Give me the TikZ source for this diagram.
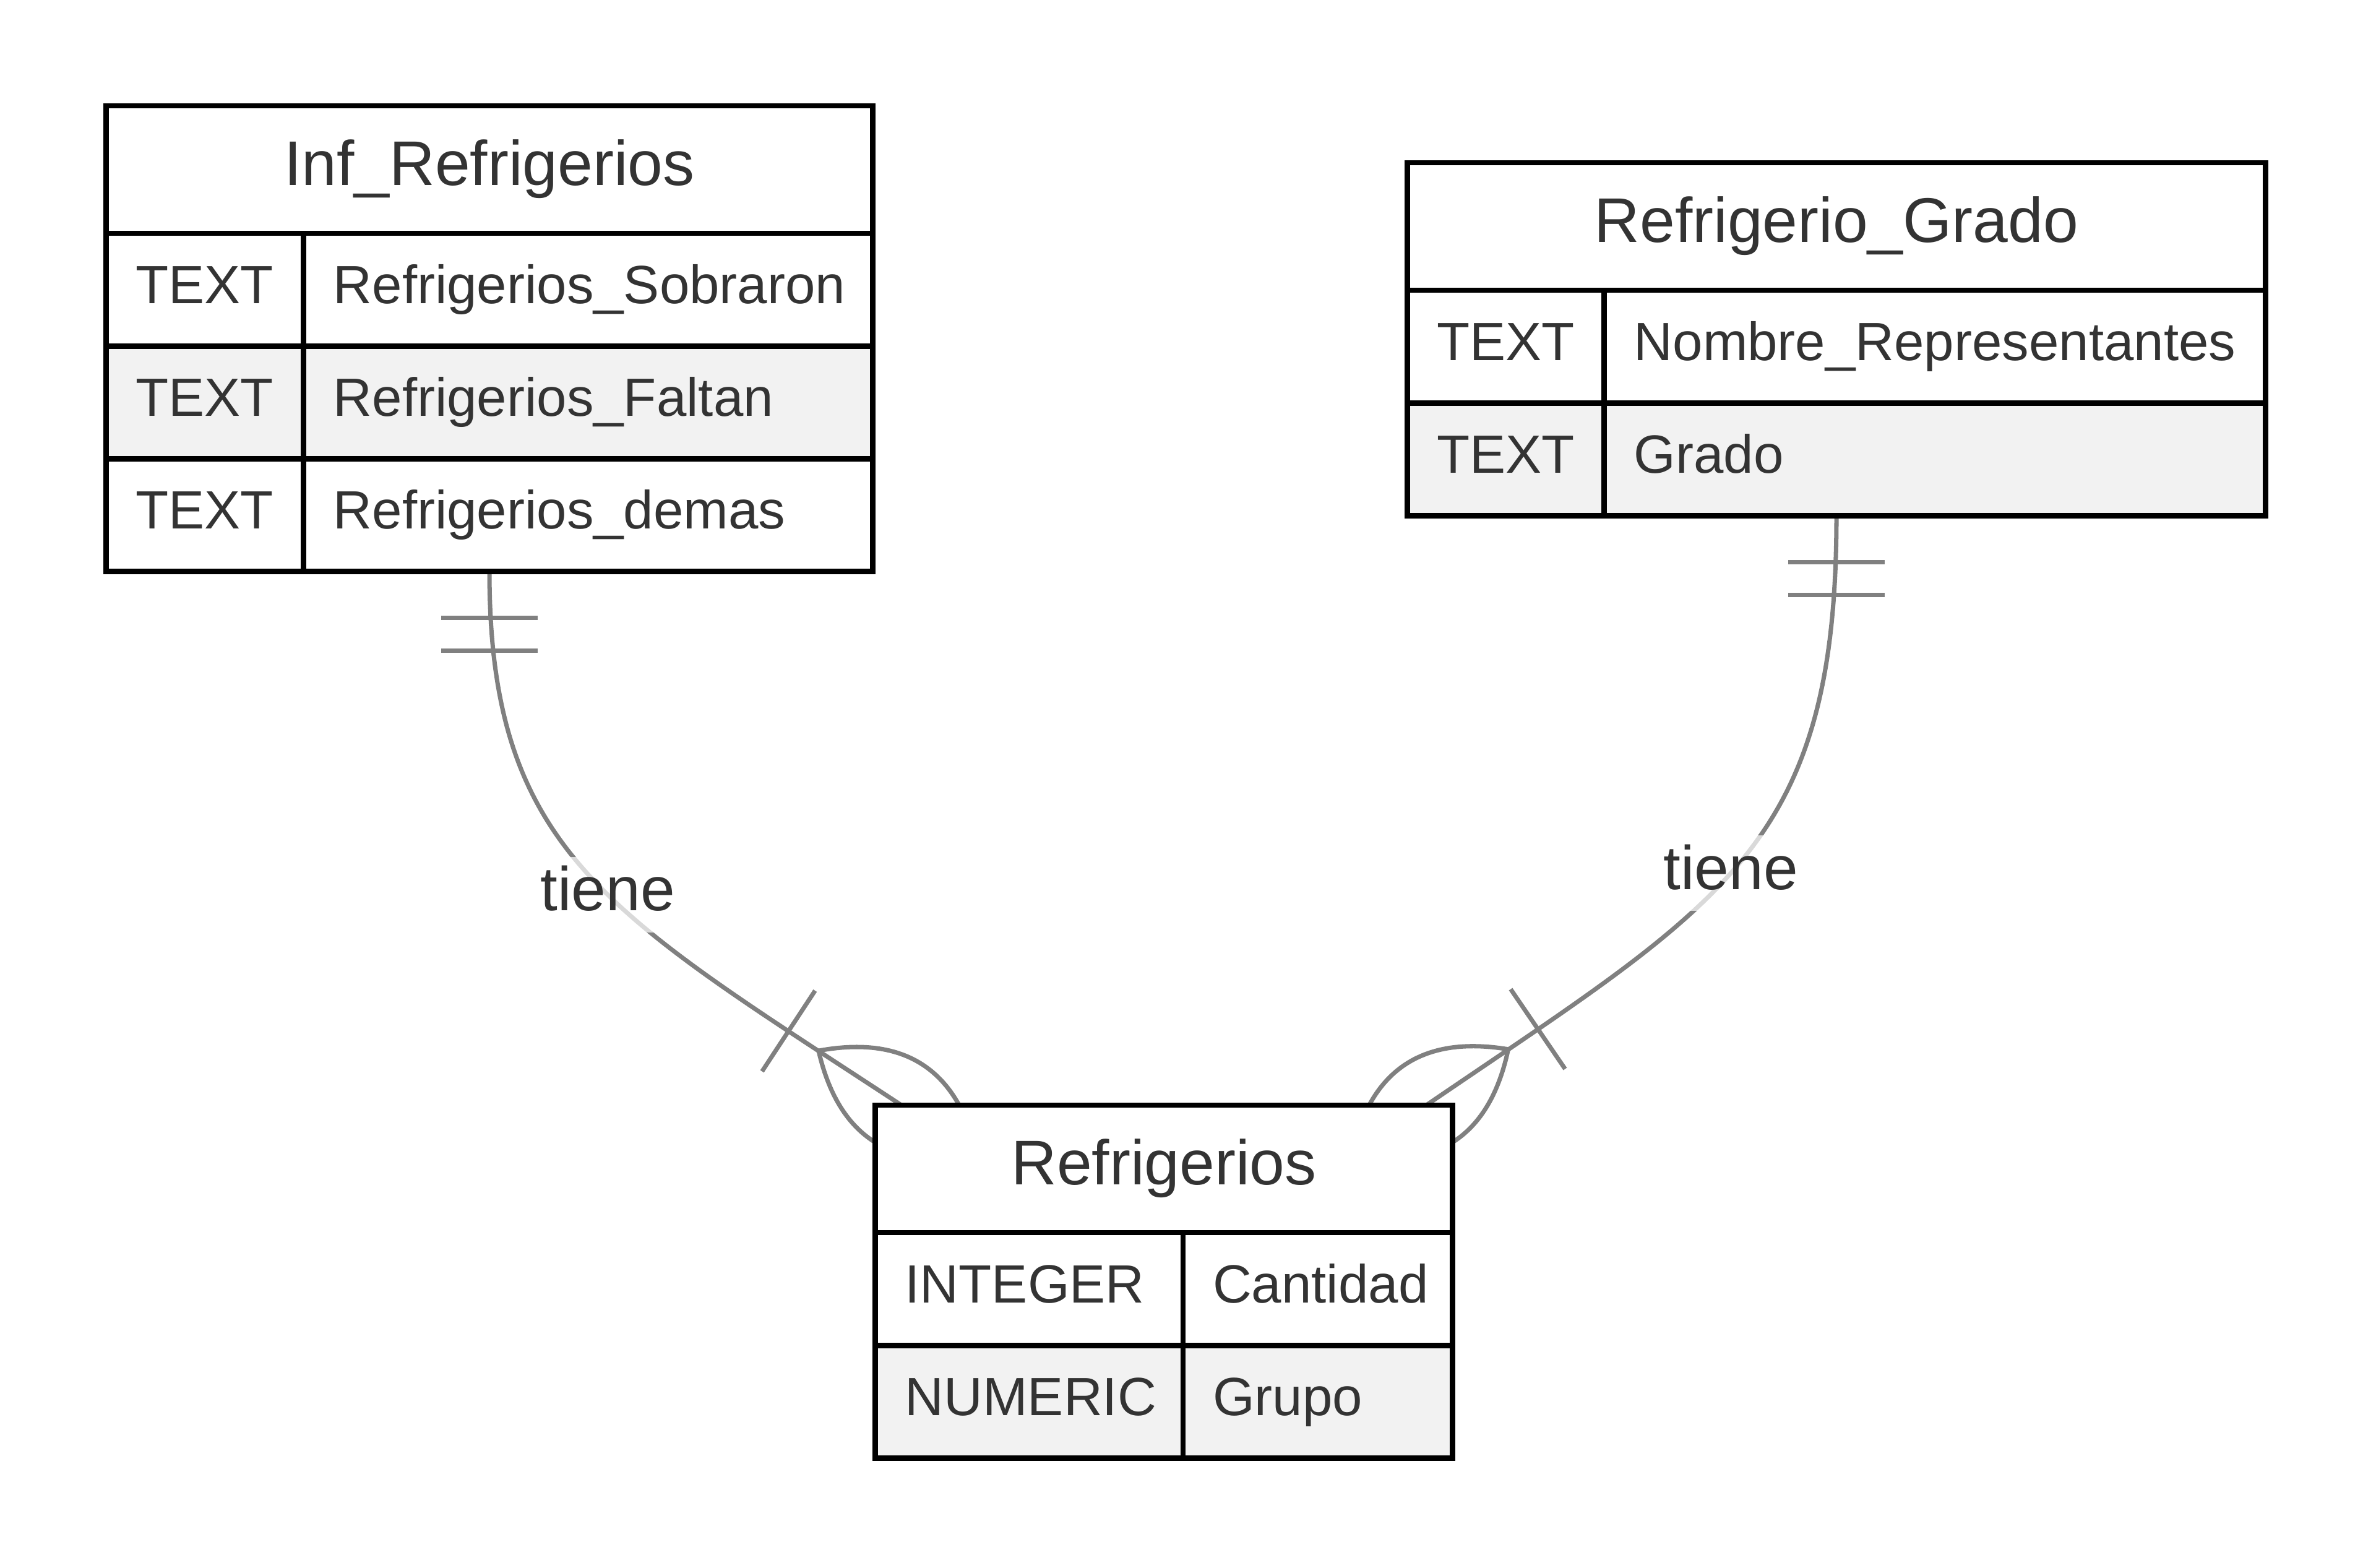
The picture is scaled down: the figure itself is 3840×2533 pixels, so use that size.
\documentclass[tikz,border=0pt]{standalone}
\usepackage{fontspec}
\setmainfont{Liberation Sans}
\usetikzlibrary{positioning}
\usetikzlibrary{fit}
\usetikzlibrary{calc}
\pgfdeclarelayer{background}
\pgfsetlayers{background,main}
\definecolor{txtgray}{HTML}{333333}
\definecolor{rowgray}{HTML}{F2F2F2}
\definecolor{linkgray}{HTML}{808080}

\begin{document}
\begin{tikzpicture}[
    x=0.01cm, y=-0.01cm,
    headnode/.style={draw=black, line width=2.5pt, fill=white, minimum height=2.06cm, inner sep=0pt, outer sep=0pt, text=txtgray, text height=0.73cm, text depth=0.23cm, font=\fontsize{29pt}{35pt}\selectfont},
    cellnode/.style={draw=black, line width=2.5pt, fill=white, minimum height=1.82cm, inner xsep=0.48cm, inner ysep=0pt, outer sep=0pt, align=left, text=txtgray, text height=0.64cm, text depth=0.19cm, font=\fontsize{24.75pt}{30pt}\selectfont},
    grayrow/.style={cellnode, fill=rowgray},
    link/.style={draw=linkgray, line width=2pt},
    tiene/.style={fill=white, fill opacity=0.7, text opacity=1, text=txtgray, inner sep=0pt, minimum height=1.22cm, text height=0.74cm, text depth=0.22cm, font=\fontsize{28.45pt}{34pt}\selectfont}
    ]
    \begin{pgfonlayer}{background}
    \path[use as bounding box, fill=white] (0,0) rectangle (3840,2533);
    \end{pgfonlayer}

    %Nodes
    \node[headnode, minimum width=12.38cm] (infH) at (791,274) {Inf\_Refrigerios};
    \node[cellnode, text width=2.23cm] (infAt) [below right=0cm and 0cm of infH.south west] {TEXT};
    \node[cellnode, text width=8.23cm] (infAn) [right=0cm of infAt] {\mbox{Refrigerios\_Sobraron}};
    \node[grayrow, text width=2.23cm] (infBt) [below=0cm of infAt] {TEXT};
    \node[grayrow, text width=8.23cm] (infBn) [right=0cm of infBt] {\mbox{Refrigerios\_Faltan}};
    \node[cellnode, text width=2.23cm] (infCt) [below=0cm of infBt] {TEXT};
    \node[cellnode, text width=8.23cm] (infCn) [right=0cm of infCt] {\mbox{Refrigerios\_demas}};

    \node[inner sep=0pt, outer sep=0pt, fit=(infH) (infAt) (infCn)] (inf) {};

    \node[headnode, minimum width=13.86cm] (grH) at (2968,366) {Refrigerio\_Grado};
    \node[cellnode, text width=2.22cm] (grAt) [below right=0cm and 0cm of grH.south west] {TEXT};
    \node[cellnode, text width=9.72cm] (grAn) [right=0cm of grAt] {\mbox{Nombre\_Representantes}};
    \node[grayrow, text width=2.22cm] (grBt) [below=0cm of grAt] {TEXT};
    \node[grayrow, text width=9.72cm] (grBn) [right=0cm of grBt] {Grado};

    \node[inner sep=0pt, outer sep=0pt, fit=(grH) (grAt) (grBn)] (gr) {};

    \node[headnode, minimum width=9.32cm] (refH) at (1881,1889) {Refrigerios};
    \node[cellnode, text width=4.01cm] (refAt) [below right=0cm and 0cm of refH.south west] {\mbox{INTEGER}};
    \node[cellnode, text width=3.39cm] (refAn) [right=0cm of refAt] {\mbox{Cantidad}};
    \node[grayrow, text width=4.01cm] (refBt) [below=0cm of refAt] {\mbox{NUMERIC}};
    \node[grayrow, text width=3.39cm] (refBn) [right=0cm of refBt] {Grupo};

    %Lines
    \begin{pgfonlayer}{background}
    \coordinate (eL) at ($(refH.north west)+(42,0)$);
    \coordinate (eR) at ($(refH.north east)+(-42,0)$);
    \coordinate (lc1) at (791,1380);
    \coordinate (lc2) at (988,1478);
    \coordinate (rc1) at (2968,1370);
    \coordinate (rc2) at (2786,1458);

    \draw[link] (inf.south) .. controls (lc1) and (lc2) .. (eL) node[tiene, pos=0.55] (tieneL) {tiene};
    \draw[link] (gr.south) .. controls (rc1) and (rc2) .. (eR) node[tiene, pos=0.53] (tieneR) {tiene};

    % two bars at the top tables
    \coordinate (infB1) at ($(inf.south)!0.75cm!(lc1)$);
    \coordinate (infB2) at ($(inf.south)!1.28cm!(lc1)$);
    \draw[link] ($(infB1)!0.78cm!90:(lc1)$) -- ($(infB1)!0.78cm!-90:(lc1)$);
    \draw[link] ($(infB2)!0.78cm!90:(lc1)$) -- ($(infB2)!0.78cm!-90:(lc1)$);
    \coordinate (grB1) at ($(gr.south)!0.75cm!(rc1)$);
    \coordinate (grB2) at ($(gr.south)!1.28cm!(rc1)$);
    \draw[link] ($(grB1)!0.78cm!90:(rc1)$) -- ($(grB1)!0.78cm!-90:(rc1)$);
    \draw[link] ($(grB2)!0.78cm!90:(rc1)$) -- ($(grB2)!0.78cm!-90:(rc1)$);

    % crow's feet at Refrigerios
    \coordinate (fL) at ($(eL)!1.60cm!(lc2)$);
    \coordinate (bL) at ($(eL)!2.18cm!(lc2)$);
    \coordinate (aL1) at ($(eL)!0.577cm!(lc2)$);
    \coordinate (aL2) at ($(eL)!-0.447cm!(lc2)$);
    \coordinate (tL) at ($(eL)!-1.47cm!(lc2)$);
    \draw[link] ($(bL)!0.78cm!90:(lc2)$) -- ($(bL)!0.78cm!-90:(lc2)$);
    \draw[link] (fL) .. controls ($(aL1)!0.98cm!90:(lc2)$) and ($(aL2)!0.98cm!90:(lc2)$) .. (tL)
        .. controls ($(aL2)!0.98cm!-90:(lc2)$) and ($(aL1)!0.98cm!-90:(lc2)$) .. (fL);

    \coordinate (fR) at ($(eR)!1.60cm!(rc2)$);
    \coordinate (bR) at ($(eR)!2.18cm!(rc2)$);
    \coordinate (aR1) at ($(eR)!0.577cm!(rc2)$);
    \coordinate (aR2) at ($(eR)!-0.447cm!(rc2)$);
    \coordinate (tR) at ($(eR)!-1.47cm!(rc2)$);
    \draw[link] ($(bR)!0.78cm!90:(rc2)$) -- ($(bR)!0.78cm!-90:(rc2)$);
    \draw[link] (fR) .. controls ($(aR1)!0.98cm!90:(rc2)$) and ($(aR2)!0.98cm!90:(rc2)$) .. (tR)
        .. controls ($(aR2)!0.98cm!-90:(rc2)$) and ($(aR1)!0.98cm!-90:(rc2)$) .. (fR);
    \end{pgfonlayer}

\end{tikzpicture}
\end{document}
